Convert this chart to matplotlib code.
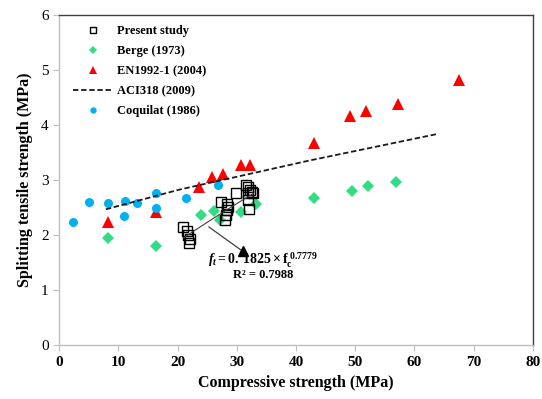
import numpy as np
import matplotlib.pyplot as plt

plt.rcParams['font.family'] = ['Liberation Serif', 'DejaVu Serif']
plt.rcParams['mathtext.fontset'] = 'custom'
plt.rcParams['mathtext.rm'] = 'Liberation Serif:bold'
plt.rcParams['mathtext.it'] = 'Liberation Serif:italic:bold'
plt.rcParams['mathtext.bf'] = 'Liberation Serif:bold'

# Present study
present_fc = [21.0, 21.6, 21.8, 22.1, 22.0,
              27.4, 28.3, 28.5, 28.3, 28.2, 28.0,
              29.8, 31.5, 31.95, 32.2, 31.95, 32.5, 32.8, 31.95, 32.1]
present_ft = [2.15, 2.08, 2.00, 1.93, 1.86,
              2.61, 2.57, 2.51, 2.45, 2.36, 2.27,
              2.76, 2.91, 2.88, 2.82, 2.76, 2.79, 2.77, 2.64, 2.48]

# Berge (1973)
berge_fc = [8.2, 16.4, 24.0, 26.2, 27.1, 30.7, 33.2, 43.0, 49.5, 52.2, 56.9]
berge_ft = [1.95, 1.81, 2.36, 2.44, 2.28, 2.42, 2.56, 2.67, 2.81, 2.90, 2.97]

# EN1992-1 (2004)
en_fc = [8.2, 16.4, 23.7, 25.9, 27.6, 30.8, 32.2, 43.0, 49.1, 51.9, 57.3, 67.5]
en_ft = [2.24, 2.42, 2.88, 3.06, 3.12, 3.27, 3.27, 3.67, 4.17, 4.25, 4.39, 4.83]

# ACI318 (2009)
aci_fc = [7.9, 20.4, 42.4, 63.9]
aci_ft = [2.47, 2.83, 3.36, 3.84]

# Coquilat (1986)
coq_fc = [2.4, 5.1, 8.2, 11.1, 11.0, 13.1, 16.4, 16.4, 21.4, 26.8]
coq_ft = [2.24, 2.61, 2.59, 2.62, 2.35, 2.59, 2.77, 2.49, 2.67, 2.92]

# power fit of present study
fit_a = 0.1825
fit_b = 0.7779
fit_r2 = 0.7988

fig = plt.figure(figsize=(5.42, 3.99), dpi=100)
ax = fig.add_axes([0.109, 0.135, 0.874, 0.827])

ax.plot(present_fc, present_ft, 's', mfc='none', mec='black', mew=1.0, ms=6.5,
        label='Present study', zorder=5)
ax.plot(berge_fc, berge_ft, 'D', color='#33DB84', ms=6, mew=0,
        label='Berge (1973)', zorder=3)
ax.plot(en_fc, en_ft, '^', color='#FF0000', ms=9, mew=0,
        label='EN1992-1 (2004)', zorder=3)
ax.plot(aci_fc, aci_ft, '--', color='#1a1a1a', lw=1.3, dashes=(3, 1.5),
        label='ACI318 (2009)', zorder=4)
ax.plot(coq_fc, coq_ft, 'o', color='#00B0F0', ms=6.5, mew=0,
        label='Coquilat (1986)', zorder=3)

# trendline
xf = np.linspace(min(present_fc), max(present_fc), 50)
ax.plot(xf, fit_a * xf ** fit_b, '-', color='#404040', lw=0.8, zorder=6)

# arrow to equation
ax.annotate('', xy=(31.1, 1.70), xytext=(24.9, 2.18),
            arrowprops=dict(arrowstyle='-', color='#404040', lw=0.9))
ax.plot([31.1], [1.71], '^', color='black', ms=7, zorder=7)

ax.text(34.4, 1.54, r'$f_t = 0.\,1825 \times \mathrm{f}_\mathrm{c}^{\ 0.7779}$',
        ha='center', va='center', fontsize=10)
ax.text(34.4, 1.28, 'R² = %.4f' % fit_r2, ha='center', va='center',
        fontsize=9, fontweight='bold')

ax.set_xlim(0, 80)
ax.set_ylim(0, 6)
ax.set_xticks(range(0, 81, 10))
ax.set_yticks(range(0, 7))
for lab in ax.get_xticklabels():
    lab.set_fontweight('bold')
ax.tick_params(axis='both', labelsize=11, color='#BFBFBF', length=4, width=0.8)
ax.tick_params(axis='x', pad=4)

ax.spines['left'].set_color('#BFBFBF')
ax.spines['bottom'].set_color('#BFBFBF')
ax.spines['top'].set_color('#404040')
ax.spines['right'].set_color('#404040')
for s in ax.spines.values():
    s.set_linewidth(1.0)

ax.set_xlabel('Compressive strength (MPa)', fontsize=11.5, fontweight='bold', labelpad=4)
ax.set_ylabel('Splitting tensile strength (MPa)', fontsize=11.5, fontweight='bold', labelpad=6)

leg = ax.legend(loc='upper left', bbox_to_anchor=(0.03, 0.97), frameon=False,
                prop={'weight': 'bold', 'size': 9}, handlelength=3.1,
                handletextpad=0.4, labelspacing=0.64, markerscale=0.7,
                borderaxespad=0, borderpad=0)

fig.savefig('out.png', dpi=100)
